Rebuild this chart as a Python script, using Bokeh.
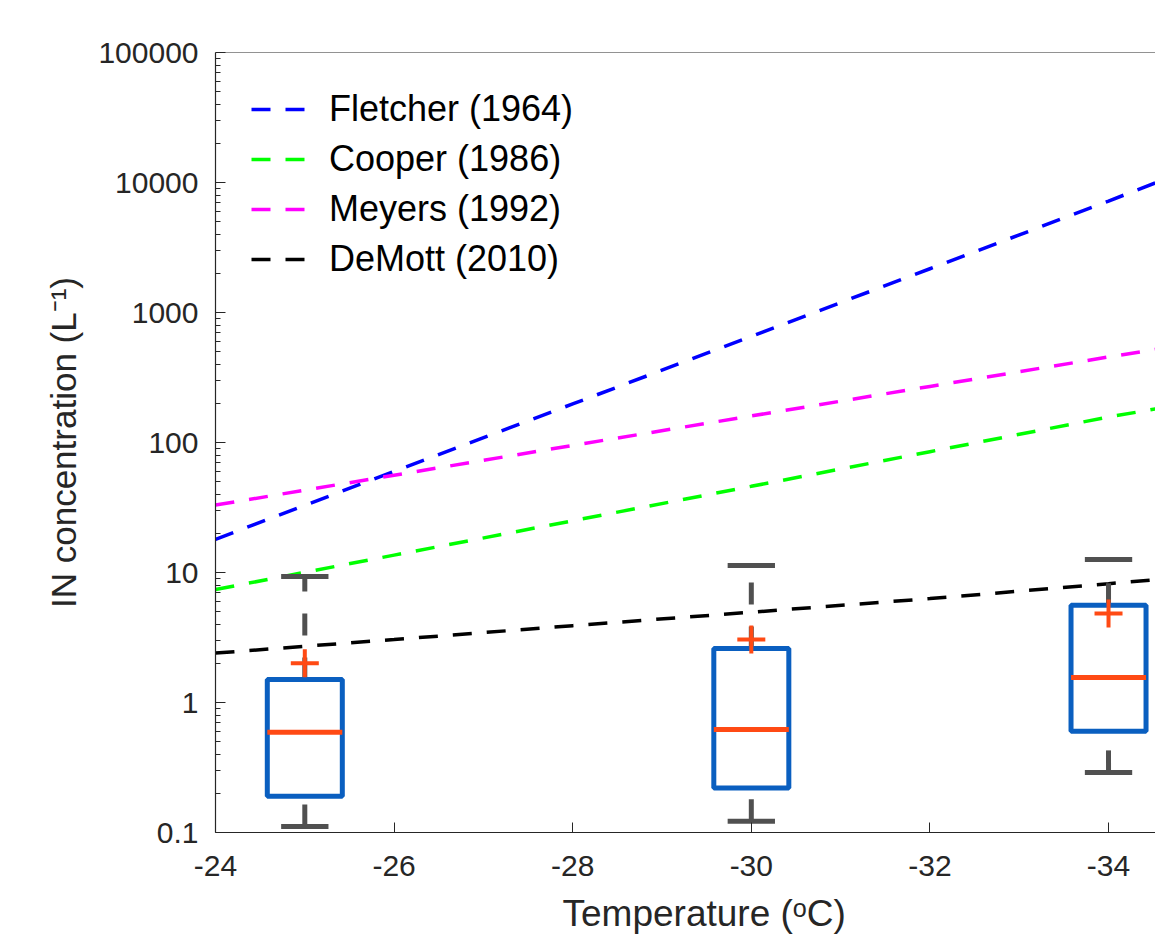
from bokeh.plotting import figure
from bokeh.models import Range1d, FixedTicker, Legend, LegendItem, Span, Title
from bokeh.embed import file_html
from bokeh.resources import INLINE

# ---- data ----
curve_t = [-24, -26, -28, -30, -32, -34, -34.6]
fletcher = [18, 60, 198, 655, 2170, 7200, 10400]
cooper = [7.4, 13.6, 25, 46, 85, 157, 185]
meyers = [33, 56, 95, 160, 270, 455, 530]
demott = [2.4, 3.05, 3.9, 4.95, 6.3, 8.2, 8.9]

box_t = [-25, -30, -34]
q1 = [0.19, 0.22, 0.60]
median = [0.59, 0.62, 1.56]
q3 = [1.5, 2.6, 5.6]
whisk_lo = [0.111, 0.122, 0.29]
whisk_hi = [9.3, 11.3, 12.6]
out_t = [-25, -30, -34]
out_v = [2.0, 3.05, 4.84]

x_ticks = [-24, -26, -28, -30, -32, -34]
x_tick_labels = ["-24", "-26", "-28", "-30", "-32", "-34"]
y_ticks = [0.1, 1, 10, 100, 1000, 10000, 100000]
y_tick_labels = ["0.1", "1", "10", "100", "1000", "10000", "100000"]
y_minor = [m * d for d in [0.1, 1, 10, 100, 1000, 10000] for m in range(2, 10)]

x_title = "Temperature (ᵒC)"
y_title = "IN concentration (L⁻¹)"

FONT = "Liberation Sans"
AX = "#262626"
BOX_C = "#0A5FC0"
MED_C = "#FF4A14"
WH_C = "#505050"

p = figure(width=1155, height=951,
           x_range=Range1d(-24, -34.526), y_range=Range1d(0.1, 100000),
           y_axis_type="log", output_backend="svg", toolbar_location=None,
           min_border_left=215, min_border_right=0, min_border_top=52,
           min_border_bottom=119)
p.outline_line_color = None
p.xgrid.visible = False
p.ygrid.visible = False
p.background_fill_color = "white"
p.border_fill_color = "white"

# ---- curves ----
r_f = p.line(curve_t, fletcher, line_color="#0000FF", line_width=3.5, line_dash="19 15")
r_c = p.line(curve_t, cooper, line_color="#00FF00", line_width=3.5, line_dash="19 15")
r_m = p.line(curve_t, meyers, line_color="#FF00FF", line_width=3.5, line_dash="19 15")
r_d = p.line(curve_t, demott, line_color="#000000", line_width=3.5, line_dash="19 15")

# ---- box plots ----
bw = 0.84
cw = 0.53
left = [t + bw / 2 for t in box_t]
right = [t - bw / 2 for t in box_t]
cl = [t + cw / 2 for t in box_t]
cr = [t - cw / 2 for t in box_t]

p.segment(box_t, q3, box_t, whisk_hi, line_color=WH_C, line_width=5, line_dash="22 22")
p.segment(box_t, whisk_lo, box_t, q1, line_color=WH_C, line_width=5, line_dash="22 22")
p.segment(cl, whisk_hi, cr, whisk_hi, line_color=WH_C, line_width=5)
p.segment(cl, whisk_lo, cr, whisk_lo, line_color=WH_C, line_width=5)
p.quad(left=left, right=right, top=q3, bottom=q1, fill_color=None,
       line_color=BOX_C, line_width=5)
p.segment(left, median, right, median, line_color=MED_C, line_width=5)
p.scatter(out_t, out_v, marker="cross", size=28, line_color=MED_C, line_width=4)

# ---- axes ----
xa = p.xaxis[0]
xa.ticker = FixedTicker(ticks=x_ticks)
xa.major_label_overrides = {t: s for t, s in zip(x_ticks, x_tick_labels)}
ya = p.yaxis[0]
ya.ticker = FixedTicker(ticks=y_ticks, minor_ticks=y_minor)
ya.major_label_overrides = {t: s for t, s in zip(y_ticks, y_tick_labels)}
ya.axis_label = y_title

for ax in (xa, ya):
    ax.axis_line_color = AX
    ax.axis_line_width = 1.2
    ax.major_tick_line_color = AX
    ax.minor_tick_line_color = AX
    ax.major_tick_in = 10
    ax.major_tick_out = 0
    ax.minor_tick_in = 5
    ax.minor_tick_out = 0
    ax.major_label_text_font = FONT
    ax.major_label_text_font_size = "30px"
    ax.major_label_text_color = AX
    ax.axis_label_text_font = FONT
    ax.axis_label_text_font_style = "normal"
    ax.axis_label_text_color = AX
xa.minor_tick_line_color = None
xa.major_label_standoff = 23
ya.major_label_standoff = 17
ya.axis_label_standoff = 12
ya.axis_label_text_font_size = "35px"

# x title: the reference axes run past the cropped right edge, so the title
# is not centred on the visible part of the axis
p.add_layout(Title(text=x_title, align="left", offset=347, standoff=24,
                   text_font=FONT, text_font_size="37px",
                   text_font_style="normal", text_color=AX), "below")

p.add_layout(Span(location=100000, dimension="width", line_color=AX, line_width=1.2))

legend = Legend(items=[
    LegendItem(label="Fletcher (1964)", renderers=[r_f]),
    LegendItem(label="Cooper (1986)", renderers=[r_c]),
    LegendItem(label="Meyers (1992)", renderers=[r_m]),
    LegendItem(label="DeMott (2010)", renderers=[r_d]),
], location="top_left")
legend.border_line_color = None
legend.background_fill_alpha = 0
legend.label_text_font = FONT
legend.label_text_font_size = "36px"
legend.label_text_color = "#000000"
legend.glyph_width = 55
legend.glyph_height = 30
legend.label_standoff = 23
legend.spacing = 8
legend.padding = 10
legend.margin = 36
p.add_layout(legend)

open("out.html", "w").write(file_html(p, INLINE))
